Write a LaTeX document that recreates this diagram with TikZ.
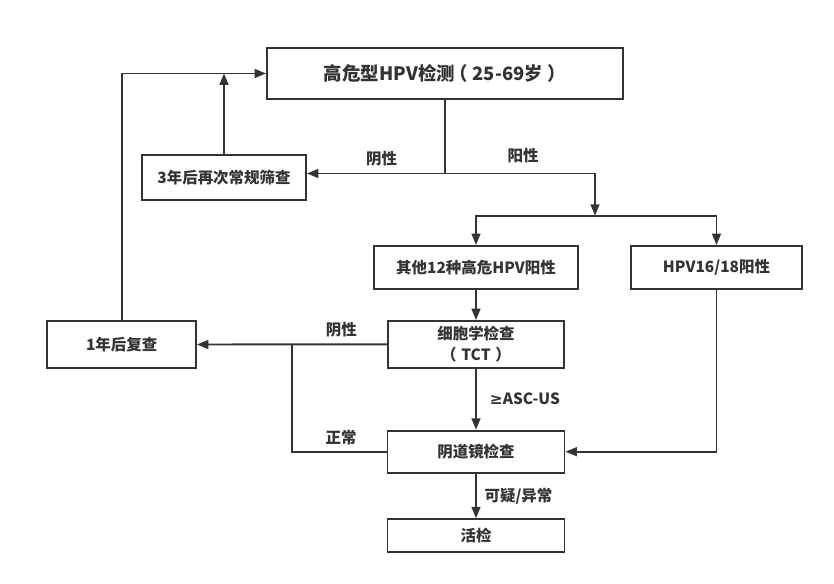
\documentclass[tikz,border=0pt]{standalone}
\usepackage{fontspec}
\setmainfont{Noto Sans CJK SC}
\newfontfamily\symfont{DejaVu Sans}
\usetikzlibrary{arrows.meta}
\definecolor{linegray}{HTML}{333333}

\begin{document}
\begin{tikzpicture}[x=0.02cm,y=-0.02cm,color=linegray,line width=1.1pt,
    box/.style={draw,inner sep=0pt,align=center,font=\bfseries\fontsize{8.8}{12}\selectfont},
    lbl/.style={font=\bfseries\fontsize{8.8}{11}\selectfont},
    arr/.style={-{Triangle[length=6.5pt,width=5pt]}}]
    \useasboundingbox (0,0) rectangle (834,584);
    % boxes
    \node[box,minimum width=7.12cm,minimum height=1.02cm,font=\bfseries\fontsize{10.5}{12}\selectfont] (hpv) at (445,73.5) {高危型HPV检测\kern-0.3em（\hspace{0.25em}25-69岁\hspace{0.25em}）};
    \node[box,minimum width=3.28cm,minimum height=0.9cm] (three) at (224,177.5) {3年后再次常规筛查};
    \node[box,minimum width=4.08cm,minimum height=0.86cm] (other) at (476,267.5) {其他12种高危HPV阳性};
    \node[box,minimum width=3.43cm,minimum height=0.86cm] (hpvhigh) at (716.5,267.5) {HPV16/18阳性};
    \node[box,minimum width=3.52cm,minimum height=0.93cm] (tct) at (476,344.3) {细胞学检查\\（\hspace{0.3em}TCT\hspace{0.3em}）};
    \node[box,minimum width=2.97cm,minimum height=0.95cm] (one) at (121.7,344.5) {1年后复查};
    \node[box,minimum width=3.54cm,minimum height=0.84cm] (colpo) at (476,451.7) {阴道镜检查};
    \node[box,minimum width=3.54cm,minimum height=0.65cm] (biopsy) at (476,535.5) {活检};
    % connectors
    \coordinate (split) at (445,173.5);
    \coordinate (turn) at (595,173.5);
    \coordinate (fork) at (595,215.7);
    \coordinate (join) at (292,344.5);
    \draw (hpv.south) -- (split);
    \draw[arr] (split) -- (split -| three.east) node[lbl,pos=0.46,above] (neg1) {阴性};
    \draw (split) -- (turn) node[lbl,pos=0.52,above,yshift=2pt] (pos1) {阳性};
    \draw[arr] (turn) -- (fork);
    \draw[arr] (fork) -| (other.north);
    \draw[arr] (fork) -| (hpvhigh.north);
    \draw[arr] (three.north) -- (three.north |- hpv.west);
    \draw[arr] (one.north) |- (hpv.west);
    \draw[arr] (other.south) -- (tct.north);
    \draw[arr] (tct.west) -- (one.east) node[lbl,pos=0.24,above] (neg2) {阴性};
    \draw (colpo.west) -| (join) node[lbl,pos=0.24,above] (normal) {正常};
    \draw[arr] (tct.south) -- (colpo.north) node[lbl,midway,right,xshift=4pt] (ascus) {{\symfont ≥}ASC-US};
    \draw[arr] (hpvhigh.south) |- (colpo.east);
    \draw[arr] (colpo.south) -- (biopsy.north) node[lbl,midway,right,xshift=1pt] (susp) {可疑/异常};
\end{tikzpicture}
\end{document}
